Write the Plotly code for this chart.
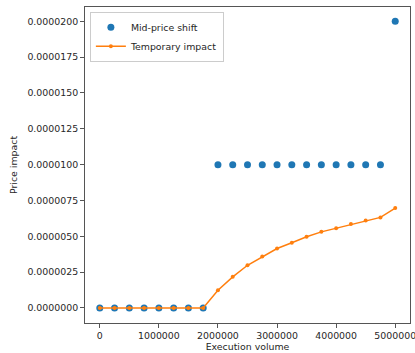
import plotly.graph_objects as go

volume = [0, 250000, 500000, 750000, 1000000, 1250000, 1500000, 1750000,
          2000000, 2250000, 2500000, 2750000, 3000000, 3250000, 3500000,
          3750000, 4000000, 4250000, 4500000, 4750000, 5000000]
mid_price_shift = [0, 0, 0, 0, 0, 0, 0, 0,
                   1e-5, 1e-5, 1e-5, 1e-5, 1e-5, 1e-5, 1e-5,
                   1e-5, 1e-5, 1e-5, 1e-5, 1e-5, 2e-5]
temporary_impact = [0, 0, 0, 0, 0, 0, 0, 0,
                    1.24e-6, 2.17e-6, 2.98e-6, 3.59e-6, 4.15e-6, 4.55e-6, 4.97e-6,
                    5.31e-6, 5.57e-6, 5.85e-6, 6.11e-6, 6.32e-6, 6.97e-6]
x_ticks = [0, 1000000, 2000000, 3000000, 4000000, 5000000]
y_ticks = [0, 2.5e-6, 5e-6, 7.5e-6, 1e-5, 1.25e-5, 1.5e-5, 1.75e-5, 2e-5]

FS = 9.4
TXT = "#262626"

fig = go.Figure()
fig.add_trace(go.Scatter(
    x=volume, y=mid_price_shift, mode="markers", name="Mid-price shift",
    marker=dict(color="#1f77b4", size=7),
))
fig.add_trace(go.Scatter(
    x=volume, y=temporary_impact, mode="lines+markers", name="Temporary impact",
    line=dict(color="#ff7f0e", width=1.5),
    marker=dict(color="#ff7f0e", size=4),
))

axis_common = dict(
    showgrid=False, zeroline=False, showline=True, mirror=True, automargin=False,
    linecolor="#555555", linewidth=1, ticks="outside", ticklen=4,
    tickcolor="#555555", tickfont=dict(family="DejaVu Sans", size=FS, color=TXT),
    ticklabeloverflow="allow",
)
fig.update_xaxes(
    range=[-250000, 5250000], tickvals=x_ticks,
    ticktext=[str(v) for v in x_ticks],
    title=dict(text="Execution volume", font=dict(family="DejaVu Sans", size=FS, color=TXT), standoff=2),
    **axis_common,
)
fig.update_yaxes(
    range=[-1.05e-6, 2.1e-5], tickvals=y_ticks,
    ticktext=[f"{v:.7f}" for v in y_ticks],
    title=dict(text="Price impact", font=dict(family="DejaVu Sans", size=FS, color=TXT), standoff=8),
    **axis_common,
)
fig.update_layout(
    width=415, height=353,
    margin=dict(l=85, r=5, t=7, b=30),
    plot_bgcolor="white", paper_bgcolor="white",
    font=dict(family="DejaVu Sans", size=FS, color=TXT),
    legend=dict(x=0.015, y=0.985, xanchor="left", yanchor="top",
                bgcolor="rgba(255,255,255,0.8)", bordercolor="#cccccc", borderwidth=1,
                font=dict(size=FS), tracegroupgap=0, itemwidth=30),
    showlegend=True,
)
fig.write_html("out.html", config={"displayModeBar": False},
               post_script="document.body.style.margin='0';document.body.style.overflow='hidden';")
